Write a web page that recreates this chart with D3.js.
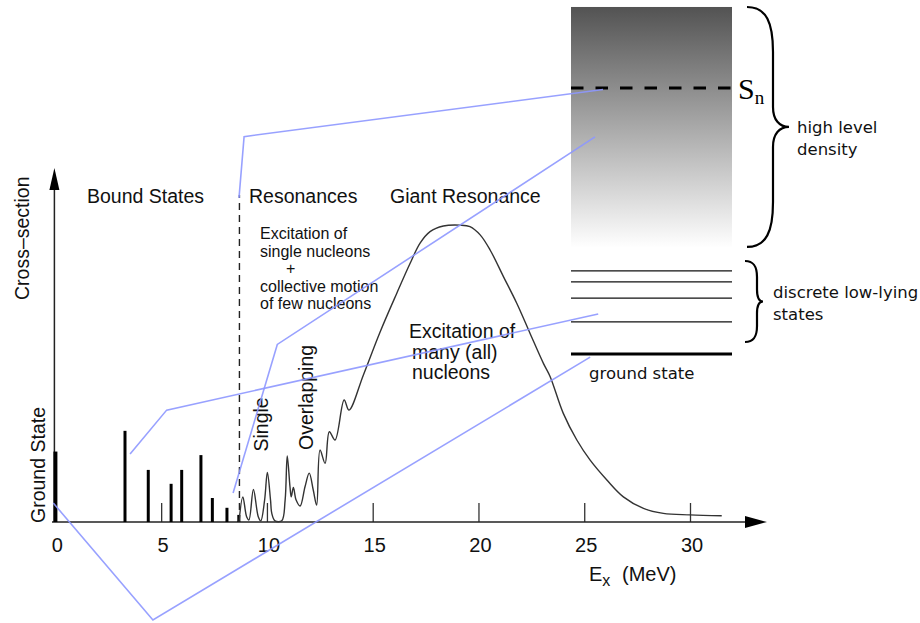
<!DOCTYPE html>
<html>
<head>
<meta charset="utf-8">
<script src="https://cdn.jsdelivr.net/npm/d3@7"></script>
<style>
  html, body { margin: 0; padding: 0; background: #fff; }
  svg { display: block; }
</style>
</head>
<body>
<svg id="chart" width="920" height="623"></svg>
<script>
// ---- data (energies in MeV, cross-section in arbitrary units, peak = 100) ----
const energyTicks = [0, 5, 10, 15, 20, 25, 30];

// discrete bound states (stick spectrum)
const boundE = [0, 3.29, 4.39, 5.47, 5.97, 6.88, 7.42, 8.11, 8.67];
const boundV = [23.8, 30.8, 17.6, 12.9, 17.6, 22.6, 8.1, 4.8, 2.4];

// resonances + giant resonance curve
const resE = [8.68, 8.86, 9.04, 9.15, 9.36, 9.59, 9.71, 9.89, 10.02, 10.17, 10.23, 10.38,
  10.70, 10.86, 10.96, 11.09, 11.15, 11.25, 11.38, 11.57, 11.80, 12.00, 12.19, 12.35,
  12.51, 12.75, 12.95, 13.22, 13.65, 13.88, 14.56, 15.35, 16.14, 16.77, 17.24, 17.71,
  18.34, 19.13, 19.60, 20.08, 20.55, 21.18, 21.81, 22.44, 23.07, 23.39, 24.01, 24.65,
  25.28, 26.07, 26.85, 27.80, 28.74, 30.00, 31.50];
const resV = [0.1, 8.5, 1.8, 0.7, 11.0, 1.8, 0.4, 7.4, 16.7, 7.4, 2.9, 0.4,
  0.4, 7.4, 22.3, 11.9, 8.5, 11.7, 7.4, 5.4, 11.9, 16.5, 10.8, 5.7,
  24.3, 19.8, 30.5, 27.7, 41.2, 37.8, 49.7, 64.2, 77.3, 87.4, 94.2, 98.1,
  100, 100.3, 99.8, 97.0, 91.9, 82.9, 73.9, 63.7, 53.6, 49.1, 36.7, 27.7,
  20.9, 14.2, 8.5, 4.6, 2.9, 2.4, 2.1];

// neutron separation energy (threshold)
const separationE = 8.7;

// level scheme (MeV)
const discreteLevels = [1.05, 1.83, 2.36, 2.72];
const continuumRange = [3.47, 11.35];

// connector lines, points in spectrum units [E, cross-section]
const connectorLines = [
  [[3.53, 23.0], [5.26, 37.8], [25.66, 70.3]],
  [[-0.10, 6.4], [4.61, -33.1], [25.28, 55.7]],
  [[8.40, 9.8], [10.49, 60.0], [25.51, 130.1]],
  [[8.68, 109.5], [8.92, 130.2], [25.89, 146.1]]
];

// ---- drawing ----
const svg = d3.select("#chart");
const sansFont = "'Liberation Sans', Arial, Helvetica, sans-serif";
const dejaFont = "'DejaVu Sans', sans-serif";

const x = d3.scaleLinear().domain([0, 30]).range([55.4, 690]);
const y = d3.scaleLinear().domain([0, 100]).range([522, 226]);
const lvl = d3.scaleLinear().domain([0, separationE]).range([354, 88]);

const boxX0 = 571, boxX1 = 732;

// gradient for the continuum
const defs = svg.append("defs");
const grad = defs.append("linearGradient")
  .attr("id", "cont").attr("x1", 0).attr("y1", 0).attr("x2", 0).attr("y2", 1);
grad.append("stop").attr("offset", "0%").attr("stop-color", "#535353");
grad.append("stop").attr("offset", "100%").attr("stop-color", "#ffffff");

const levels = svg.append("g");
levels.append("rect")
  .attr("x", boxX0).attr("width", boxX1 - boxX0)
  .attr("y", lvl(continuumRange[1]))
  .attr("height", lvl(continuumRange[0]) - lvl(continuumRange[1]))
  .attr("fill", "url(#cont)");

levels.selectAll(".lev")
  .data(discreteLevels)
  .enter().append("line")
  .attr("class", "lev")
  .attr("x1", boxX0).attr("x2", boxX1)
  .attr("y1", d => lvl(d)).attr("y2", d => lvl(d))
  .attr("stroke", "#111").attr("stroke-width", 1.2);

levels.append("line")
  .attr("x1", boxX0).attr("x2", boxX1)
  .attr("y1", lvl(0)).attr("y2", lvl(0))
  .attr("stroke", "#000").attr("stroke-width", 3);

levels.append("line")
  .attr("x1", boxX0).attr("x2", boxX1)
  .attr("y1", lvl(separationE)).attr("y2", lvl(separationE))
  .attr("stroke", "#000").attr("stroke-width", 3)
  .attr("stroke-dasharray", "12.5,12");

const sn = levels.append("text")
  .attr("x", boxX1 + 6).attr("y", lvl(separationE) + 10.5)
  .attr("font-family", "'Liberation Serif', 'Times New Roman', serif")
  .attr("font-size", 30).text("S");
sn.append("tspan").attr("dy", 5.5).attr("font-size", 19).text("n");

function bracePath(x0, y0, y1, xStem, xTip, rEnd, rMid) {
  const ym = (y0 + y1) / 2;
  const cx = x0 + (xStem - x0) * 0.75;
  const tx = xStem + (xTip - xStem) * 0.4;
  return `M${x0},${y0} C${cx},${y0} ${xStem},${y0 + rEnd * 0.35} ${xStem},${y0 + rEnd}` +
    ` L${xStem},${ym - rMid} C${xStem},${ym - rMid * 0.35} ${tx},${ym} ${xTip},${ym}` +
    ` C${tx},${ym} ${xStem},${ym + rMid * 0.35} ${xStem},${ym + rMid}` +
    ` L${xStem},${y1 - rEnd} C${xStem},${y1 - rEnd * 0.35} ${cx},${y1} ${x0},${y1}`;
}

levels.append("path")
  .attr("d", bracePath(747, lvl(continuumRange[1]), lvl(continuumRange[0]) - 1, 773, 789, 45, 20))
  .attr("fill", "none").attr("stroke", "#000").attr("stroke-width", 2.2);
levels.append("path")
  .attr("d", bracePath(745, 261, 342, 757, 763, 16, 12))
  .attr("fill", "none").attr("stroke", "#000").attr("stroke-width", 2.2);

const rightLabels = [
  { t: "high level", x: 797, y: 133 },
  { t: "density", x: 797, y: 155 },
  { t: "discrete low-lying", x: 773, y: 298 },
  { t: "states", x: 773, y: 319.5 },
  { t: "ground state", x: 589, y: 379 }
];
levels.selectAll(".rl")
  .data(rightLabels)
  .enter().append("text")
  .attr("class", "rl")
  .attr("x", d => d.x).attr("y", d => d.y)
  .attr("font-family", dejaFont).attr("font-size", 16.5).attr("fill", "#111")
  .text(d => d.t);

// ---- spectrum ----
const plot = svg.append("g");

// x axis with ticks pointing up
const xAxis = d3.axisBottom(x)
  .tickValues(energyTicks)
  .tickSizeInner(-19)
  .tickSizeOuter(0)
  .tickPadding(16);
const gx = plot.append("g")
  .attr("transform", `translate(0,${y(0)})`)
  .call(xAxis);
gx.select(".domain").remove();
gx.selectAll(".tick line").attr("stroke", "#333").attr("stroke-width", 1.3);
gx.selectAll(".tick text")
  .attr("font-family", sansFont).attr("font-size", 20).attr("fill", "#111")
  .attr("dx", 1.5);

// axis lines with arrows
const axisTop = 168, axisRight = 767;
plot.append("line")
  .attr("x1", 52).attr("x2", axisRight - 14)
  .attr("y1", y(0)).attr("y2", y(0))
  .attr("stroke", "#222").attr("stroke-width", 1.5);
plot.append("path")
  .attr("d", `M${axisRight},${y(0)} L${axisRight - 22},${y(0) - 6} L${axisRight - 22},${y(0) + 6} Z`)
  .attr("fill", "#000");
plot.append("line")
  .attr("x1", x(0) - 1).attr("x2", x(0) - 1)
  .attr("y1", y(0)).attr("y2", axisTop + 14)
  .attr("stroke", "#222").attr("stroke-width", 1.5);
plot.append("path")
  .attr("d", `M${x(0) - 1},${axisTop} L${x(0) - 6},${axisTop + 22} L${x(0) + 4},${axisTop + 22} Z`)
  .attr("fill", "#000");

// threshold dashed line
plot.append("line")
  .attr("x1", x(separationE)).attr("x2", x(separationE))
  .attr("y1", y(0)).attr("y2", y(110.5))
  .attr("stroke", "#222").attr("stroke-width", 1.4)
  .attr("stroke-dasharray", "7,5");

// bound state sticks
const bound = boundE.map((e, i) => ({ e, v: boundV[i] }));
plot.selectAll(".stick")
  .data(bound)
  .enter().append("line")
  .attr("class", "stick")
  .attr("x1", d => x(d.e)).attr("x2", d => x(d.e))
  .attr("y1", y(0)).attr("y2", d => y(d.v))
  .attr("stroke", "#000")
  .attr("stroke-width", (d, i) => i === 0 ? 4 : 3);

// resonance curve
const line = d3.line()
  .x(d => x(d[0]))
  .y(d => Math.min(y(d[1]), y(0)))
  .curve(d3.curveCatmullRom.alpha(0.5));
plot.append("path")
  .datum(resE.map((e, i) => [e, resV[i]]))
  .attr("d", line)
  .attr("fill", "none")
  .attr("stroke", "#333")
  .attr("stroke-width", 1.4);

// labels
const labels = [
  { t: "Bound States", x: 87, y: 203, s: 19.5 },
  { t: "Resonances", x: 249, y: 203, s: 19.5 },
  { t: "Giant Resonance", x: 390, y: 203, s: 19.5 },
  { t: "Excitation of", x: 260, y: 239, s: 16 },
  { t: "single nucleons", x: 260, y: 256.5, s: 16 },
  { t: "+", x: 286, y: 274, s: 16 },
  { t: "collective motion", x: 260, y: 291.5, s: 16 },
  { t: "of few nucleons", x: 260, y: 309, s: 16 },
  { t: "Excitation of", x: 409, y: 338, s: 19.5 },
  { t: "many (all)", x: 412, y: 358.5, s: 19.5 },
  { t: "nucleons", x: 412, y: 378.5, s: 19.5 }
];
plot.selectAll(".lab")
  .data(labels)
  .enter().append("text")
  .attr("class", "lab")
  .attr("x", d => d.x).attr("y", d => d.y)
  .attr("font-family", sansFont).attr("font-size", d => d.s).attr("fill", "#111")
  .text(d => d.t);

const vLabels = [
  { t: "Single", x: 268, y: 451.5 },
  { t: "Overlapping", x: 312.5, y: 450 },
  { t: "Cross\u2013section", x: 28.5, y: 300 },
  { t: "Ground State", x: 45, y: 523 }
];
plot.selectAll(".vlab")
  .data(vLabels)
  .enter().append("text")
  .attr("class", "vlab")
  .attr("transform", d => `translate(${d.x},${d.y}) rotate(-90)`)
  .attr("font-family", sansFont).attr("font-size", 19.5).attr("fill", "#111")
  .text(d => d.t);

// axis title E_x (MeV)
const xt = plot.append("text")
  .attr("x", 589).attr("y", 581)
  .attr("font-family", sansFont).attr("font-size", 20).attr("fill", "#111")
  .text("E");
xt.append("tspan").attr("dy", 5).attr("font-size", 16).text("x");
plot.append("text")
  .attr("x", 622).attr("y", 581)
  .attr("font-family", sansFont).attr("font-size", 20).attr("fill", "#111")
  .text("(MeV)");

// connector lines on top
svg.append("g").selectAll(".conn")
  .data(connectorLines)
  .enter().append("path")
  .attr("class", "conn")
  .attr("d", d3.line().x(d => x(d[0])).y(d => y(d[1])))
  .attr("fill", "none")
  .attr("stroke", "#8d97ff")
  .attr("stroke-opacity", 0.9)
  .attr("stroke-width", 1.6);
</script>
</body>
</html>
